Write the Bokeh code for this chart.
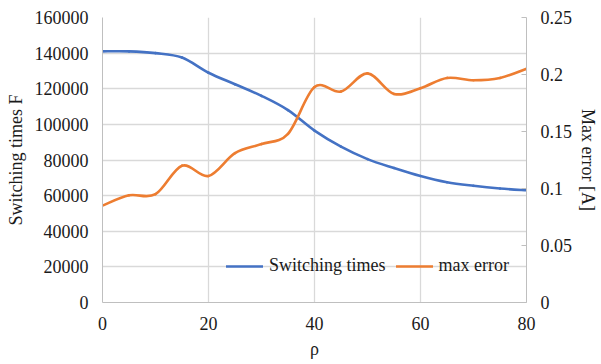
from bokeh.plotting import figure
from bokeh.models import (Range1d, LinearAxis, Legend, LegendItem, FixedTicker,
                          ColumnDataSource, NumeralTickFormatter)
from bokeh.embed import file_html
from bokeh.resources import INLINE

# ---- data ----
rho = [0, 5, 10, 15, 20, 25, 30, 35, 40, 45, 50, 55, 60, 65, 70, 75, 80]
switching_times = [141000, 141000, 140000, 137500, 129000, 122500, 116000, 108000,
                   96500, 87500, 80500, 75500, 71000, 67500, 65500, 64000, 63000]
max_error = [0.085, 0.094, 0.095, 0.120, 0.111, 0.131, 0.139, 0.148, 0.189,
             0.185, 0.201, 0.183, 0.188, 0.197, 0.195, 0.197, 0.205]

x_ticks = [0, 20, 40, 60, 80]
left_ticks = [0, 20000, 40000, 60000, 80000, 100000, 120000, 140000, 160000]
right_ticks = [0, 0.05, 0.1, 0.15, 0.2, 0.25]

BLUE = "#4472C4"
ORANGE = "#ED7D31"
GRID = "#D9D9D9"
AXIS = "#BFBFBF"
FONT = "Liberation Serif"
FS = "18px"


def smooth_segments(x, y):
    """Bezier segments through the data points (Excel-style smoothed line)."""
    n = len(x)
    d = dict(x0=[], y0=[], x1=[], y1=[], cx0=[], cy0=[], cx1=[], cy1=[])
    for i in range(n - 1):
        ip = max(i - 1, 0)
        inn = min(i + 2, n - 1)
        d["x0"].append(x[i]); d["y0"].append(y[i])
        d["x1"].append(x[i + 1]); d["y1"].append(y[i + 1])
        d["cx0"].append(x[i] + (x[i + 1] - x[ip]) / 6)
        d["cy0"].append(y[i] + (y[i + 1] - y[ip]) / 6)
        d["cx1"].append(x[i + 1] - (x[inn] - x[i]) / 6)
        d["cy1"].append(y[i + 1] - (y[inn] - y[i]) / 6)
    return ColumnDataSource(d)


p = figure(width=601, height=364, output_backend="svg", toolbar_location=None,
           x_range=Range1d(0, 80), y_range=Range1d(0, 160000),
           min_border_left=102, min_border_right=75, min_border_top=17,
           min_border_bottom=62)
p.outline_line_color = None
p.background_fill_color = "white"
p.border_fill_color = "white"

p.extra_y_ranges = {"err": Range1d(0, 0.25)}

# grid
p.xgrid.ticker = FixedTicker(ticks=x_ticks)
p.ygrid.ticker = FixedTicker(ticks=left_ticks)
p.xgrid.grid_line_color = GRID
p.ygrid.grid_line_color = GRID
p.xgrid.grid_line_width = 1.3
p.ygrid.grid_line_width = 1.3

# left axis
ya = p.yaxis[0]
ya.ticker = FixedTicker(ticks=left_ticks)
ya.formatter = NumeralTickFormatter(format="0")
ya.axis_label = "Switching times F"
ya.axis_line_color = AXIS
ya.major_tick_line_color = None
ya.major_tick_out = 0
ya.major_tick_in = 0
ya.minor_tick_line_color = None
ya.minor_tick_out = 0
ya.major_label_standoff = 14
ya.axis_label_standoff = 6

# bottom axis
xa = p.xaxis[0]
xa.ticker = FixedTicker(ticks=x_ticks)
xa.axis_label = "ρ"
xa.axis_line_color = AXIS
xa.major_tick_line_color = None
xa.major_tick_out = 0
xa.major_tick_in = 0
xa.minor_tick_line_color = None
xa.minor_tick_out = 0
xa.major_label_standoff = 14
xa.axis_label_standoff = 6

# right axis
ra = LinearAxis(y_range_name="err", ticker=FixedTicker(ticks=right_ticks),
                formatter=NumeralTickFormatter(format="0.[00]"),
                axis_label="Max error [A]")
ra.axis_line_color = AXIS
ra.major_tick_line_color = AXIS
ra.major_tick_in = 5
ra.major_tick_out = 0
ra.minor_tick_line_color = None
ra.minor_tick_out = 0
ra.major_label_standoff = 14
ra.axis_label_standoff = 3
p.add_layout(ra, "right")

for ax in (ya, xa, ra):
    ax.major_label_text_font = FONT
    ax.major_label_text_font_size = FS
    ax.major_label_text_color = "#1a1a1a"
    ax.axis_label_text_font = FONT
    ax.axis_label_text_font_size = FS
    ax.axis_label_text_font_style = "normal"
    ax.axis_label_text_color = "#1a1a1a"

# series
r_blue = p.bezier(x0="x0", y0="y0", x1="x1", y1="y1", cx0="cx0", cy0="cy0",
                  cx1="cx1", cy1="cy1", source=smooth_segments(rho, switching_times),
                  line_color=BLUE, line_width=2.6, line_cap="round")
r_orange = p.bezier(x0="x0", y0="y0", x1="x1", y1="y1", cx0="cx0", cy0="cy0",
                    cx1="cx1", cy1="cy1", source=smooth_segments(rho, max_error),
                    line_color=ORANGE, line_width=2.6, line_cap="round",
                    y_range_name="err")

legend = Legend(items=[LegendItem(label="Switching times", renderers=[r_blue]),
                       LegendItem(label="max error", renderers=[r_orange])],
                orientation="horizontal", location=(124, 26),
                background_fill_alpha=0, border_line_color=None,
                glyph_width=37, glyph_height=16, label_standoff=6, spacing=10,
                padding=0, margin=0,
                label_text_font=FONT, label_text_font_size=FS,
                label_text_color="#1a1a1a")
p.add_layout(legend, "center")

open("out.html", "w").write(file_html(p, INLINE))
